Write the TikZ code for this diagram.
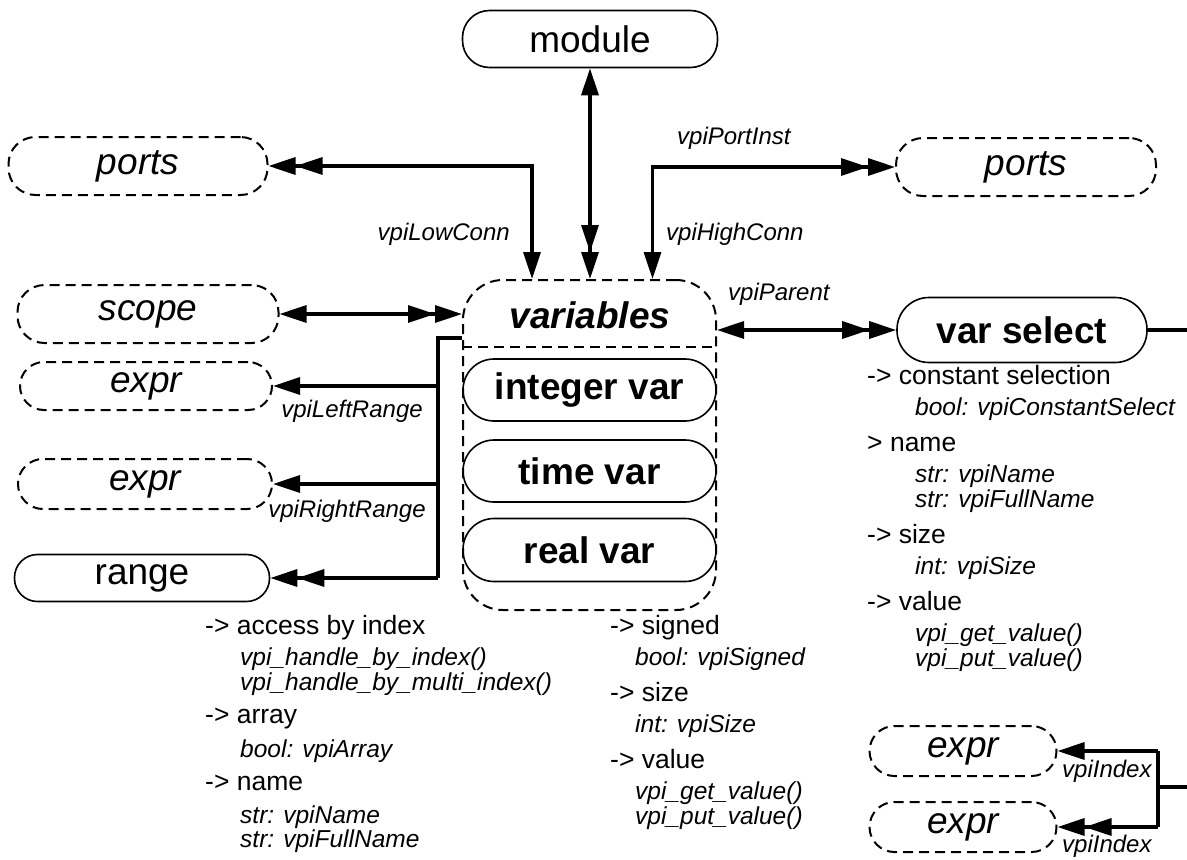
\documentclass[tikz,border=0pt]{standalone}
\usepackage{fontspec}
\setmainfont{Liberation Sans}
\usetikzlibrary{arrows.meta}
\newcommand\fbig{\fontsize{37}{41}\selectfont}
\newcommand\fhead{\fontsize{26.5}{30}\selectfont}
\newcommand\fital{\fontsize{24.5}{27}\selectfont\itshape}
\newcommand\flab{\fontsize{24}{27}\selectfont\itshape}
\begin{document}
\begin{tikzpicture}[x=1pt,y=-1pt,
  bigtri/.tip={Triangle[length=27pt,width=17pt]},
  dbltri/.tip={Triangle[length=27pt,width=17pt] Triangle[length=27pt,width=17pt]},
  solidbox/.style={draw, line width=1.6pt, rounded corners=27pt, minimum width=255pt,
    minimum height=57pt, inner sep=0pt, font=\fbig},
  dashbox/.style={solidbox, line width=2pt, dash pattern=on 10pt off 6pt, font=\fbig\itshape},
  conn/.style={line width=3.2pt},
  lbl/.style={font=\flab, inner sep=0pt, text height=0.72em, text depth=0.2em},
  hd/.style={font=\fhead, anchor=west, inner sep=0pt, text height=0.72em, text depth=0.2em},
  it/.style={font=\fital, anchor=west, inner sep=0pt, text height=0.72em, text depth=0.2em}
]
\useasboundingbox[fill=white] (0,0) rectangle (1187,860);

% ---- nodes
\node[solidbox] (module) at (590,39) {module};
\node[dashbox, minimum width=259pt, minimum height=58pt] (portsL) at (138,166) {ports};
\node[dashbox, minimum width=260pt, minimum height=58pt] (portsR) at (1026,167) {ports};
\node[dashbox, minimum width=261pt, minimum height=58pt] (scope) at (148,314) {scope};
\node[dashbox, minimum width=252pt, minimum height=48pt, rounded corners=24pt] (exprA) at (146,386) {expr};
\node[dashbox, minimum width=254pt, minimum height=50pt, rounded corners=25pt] (exprB) at (145,484) {expr};
\node[solidbox, minimum width=255pt, minimum height=47pt, rounded corners=23pt] (range) at (142,578) {range};

\node[dashbox, minimum width=253pt, minimum height=330pt, rounded corners=40pt] (vars) at (589.5,445) {};
\node[font=\fbig\bfseries\itshape, inner sep=0pt] (varlabel) at (590,315) {variables};
\coordinate (sepy) at (0,347);
\draw[line width=2pt, dash pattern=on 10pt off 6pt] (vars.west |- sepy) -- (vars.east |- sepy);
\node[solidbox, minimum width=253pt, minimum height=62pt, rounded corners=31pt, font=\fbig\bfseries] (intvar) at (589.5,390) {integer var};
\node[solidbox, minimum width=253pt, minimum height=62pt, rounded corners=31pt, font=\fbig\bfseries] (timevar) at (589.5,471) {time var};
\node[solidbox, minimum width=253pt, minimum height=63pt, rounded corners=31pt, font=\fbig\bfseries] (realvar) at (589.5,550) {real var};

\node[solidbox, minimum width=250pt, minimum height=65pt, rounded corners=32pt, font=\fbig\bfseries] (varsel) at (1022,330) {var select};

\node[dashbox, minimum width=187pt, minimum height=50pt, rounded corners=25pt] (exprC) at (963,751) {expr};
\node[dashbox, minimum width=187pt, minimum height=50pt, rounded corners=25pt] (exprD) at (963,827) {expr};

% ---- connectors
\draw[conn, {bigtri}-{dbltri}] (module.south) -- (module.south |- vars.north);
\draw[conn, {dbltri}-{bigtri}] (portsL.east) -| ([xshift=-57.5pt]vars.north);
\draw[conn, {bigtri}-{dbltri}] ([xshift=63pt]vars.north) |- (portsR.west);
\draw[conn, {bigtri}-{dbltri}] (scope.east) -- (scope.east -| vars.west);

\coordinate (b0) at (438,338);
\draw[conn] (vars.west |- b0) -- (b0) -- (b0 |- range.east);
\draw[conn, -{bigtri}] (b0 |- exprA.east) -- (exprA.east);
\draw[conn, -{bigtri}] (b0 |- exprB.east) -- (exprB.east);
\draw[conn, -{dbltri}] (b0 |- range.east) -- (range.east);

\draw[conn, {bigtri}-{dbltri}] (vars.east |- varsel.west) -- (varsel.west);
\coordinate (edgeA) at (1187,330);
\draw[conn] (varsel.east) -- (edgeA);

\coordinate (ib) at (1158,787);
\coordinate (edgeB) at (1187,787);
\draw[conn] (edgeB) -- (ib);
\draw[conn] (ib |- exprC.east) -- (ib |- exprD.east);
\draw[conn, -{bigtri}] (ib |- exprC.east) -- (exprC.east);
\draw[conn, -{dbltri}] (ib |- exprD.east) -- (exprD.east);

% ---- connector labels
\node[lbl, anchor=east] (lLow) at (510,238) {vpiLowConn};
\node[lbl, anchor=west] (lHigh) at (666,238) {vpiHighConn};
\node[lbl, anchor=west] (lPort) at (677,142) {vpiPortInst};
\node[lbl, anchor=west] (lParent) at (728,298) {vpiParent};
\node[lbl] (lLeft) at (352,415) {vpiLeftRange};
\node[lbl] (lRight) at (347,515) {vpiRightRange};
\node[lbl, anchor=west] (lIdxA) at (1062,775) {vpiIndex};
\node[lbl, anchor=west] (lIdxB) at (1062,850) {vpiIndex};

% ---- property texts: var select
\node[hd] (r1) at (867,382) {-> constant selection};
\node[it] (r2) at (915,413) {bool: vpiConstantSelect};
\node[hd] (r3) at (867,449) {> name};
\node[it] (r4) at (915,480) {str: vpiName};
\node[it] (r5) at (915,505) {str: vpiFullName};
\node[hd] (r6) at (867,541) {-> size};
\node[it] (r7) at (915,572) {int: vpiSize};
\node[hd] (r8) at (867,608) {-> value};
\node[it] (r9) at (915,639) {vpi\_get\_value()};
\node[it] (r10) at (915,664) {vpi\_put\_value()};

% ---- property texts: variables
\node[hd] (m1) at (610,632) {-> signed};
\node[it] (m2) at (635,663) {bool: vpiSigned};
\node[hd] (m3) at (610,699) {-> size};
\node[it] (m4) at (635,730) {int: vpiSize};
\node[hd] (m5) at (610,766) {-> value};
\node[it] (m6) at (635,797) {vpi\_get\_value()};
\node[it] (m7) at (635,822) {vpi\_put\_value()};

% ---- property texts: left
\node[hd] (p1) at (205,632) {-> access by index};
\node[it] (p2) at (240,663) {vpi\_handle\_by\_index()};
\node[it] (p3) at (240,688) {vpi\_handle\_by\_multi\_index()};
\node[hd] (p4) at (205,721) {-> array};
\node[it] (p5) at (240,755) {bool: vpiArray};
\node[hd] (p6) at (205,788) {-> name};
\node[it] (p7) at (240,821) {str: vpiName};
\node[it] (p8) at (240,845) {str: vpiFullName};
\end{tikzpicture}
\end{document}
